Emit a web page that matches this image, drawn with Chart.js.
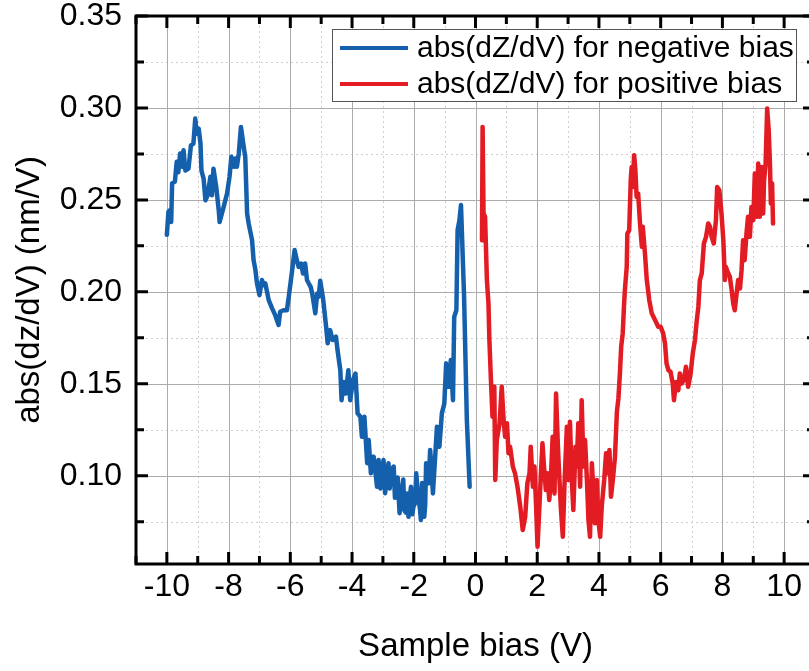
<!DOCTYPE html>
<html>
<head>
<meta charset="utf-8">
<script src="https://cdn.jsdelivr.net/npm/chart.js@4"></script>
<style>
  html, body { margin: 0; padding: 0; background: #fff; overflow: hidden; }
  canvas { display: block; }
</style>
</head>
<body>
<canvas id="c" width="820" height="671" style="width:820px;height:671px"></canvas>
<script>
// negative bias branch (V, nm/V)
const negX = [-10.00,-9.95,-9.90,-9.86,-9.83,-9.74,-9.68,-9.63,-9.57,-9.51,-9.46,-9.40,-9.30,-9.22,-9.14,-9.08,-9.03,-8.97,-8.91,-8.88,
  -8.81,-8.75,-8.68,-8.59,-8.54,-8.49,-8.40,-8.32,-8.29,-8.16,-8.05,-7.97,-7.91,-7.83,-7.78,-7.73,-7.67,-7.60,-7.51,-7.46,
  -7.40,-7.35,-7.24,-7.19,-7.13,-7.08,-7.00,-6.92,-6.86,-6.81,-6.70,-6.59,-6.49,-6.38,-6.33,-6.22,-6.11,-6.05,-5.94,-5.86,
  -5.79,-5.73,-5.65,-5.59,-5.52,-5.46,-5.40,-5.34,-5.29,-5.24,-5.19,-5.13,-5.08,-5.03,-4.94,-4.84,-4.79,-4.71,-4.63,-4.52,
  -4.47,-4.38,-4.34,-4.27,-4.20,-4.12,-4.06,-3.97,-3.89,-3.82,-3.73,-3.68,-3.60,-3.51,-3.46,-3.39,-3.30,-3.19,-3.14,-3.08,
  -3.03,-2.98,-2.93,-2.89,-2.82,-2.78,-2.74,-2.70,-2.65,-2.61,-2.57,-2.52,-2.46,-2.42,-2.38,-2.34,-2.31,-2.26,-2.22,-2.17,
  -2.13,-2.09,-2.05,-2.01,-1.96,-1.92,-1.88,-1.84,-1.80,-1.77,-1.73,-1.70,-1.66,-1.63,-1.60,-1.56,-1.52,-1.47,-1.42,-1.38,
  -1.30,-1.25,-1.17,-1.09,-1.01,-0.95,-0.87,-0.80,-0.73,-0.69,-0.62,-0.58,-0.52,-0.47,-0.41,-0.37,-0.28,-0.19];
const negY = [0.2310,0.2435,0.2444,0.2380,0.2590,0.2600,0.2707,0.2650,0.2752,0.2680,0.2770,0.2660,0.2670,0.2797,0.2806,0.2942,0.2860,0.2888,0.2806,0.2660,
  0.2616,0.2498,0.2525,0.2626,0.2525,0.2670,0.2570,0.2444,0.2380,0.2462,0.2535,0.2626,0.2734,0.2680,0.2725,0.2680,0.2752,0.2897,0.2788,0.2734,
  0.2426,0.2372,0.2281,0.2172,0.2118,0.2046,0.1982,0.2064,0.2036,0.2046,0.1955,0.1910,0.1873,0.1820,0.1892,0.1900,0.1900,0.1973,0.2118,0.2227,
  0.2172,0.2136,0.2154,0.2100,0.2154,0.2064,0.2045,0.2027,0.1991,0.1937,0.1883,0.1991,0.1973,0.2060,0.1965,0.1810,0.1720,0.1792,0.1738,0.1756,
  0.1683,0.1574,0.1411,0.1510,0.1447,0.1574,0.1411,0.1520,0.1556,0.1339,0.1321,0.1212,0.1321,0.1068,0.1194,0.1013,0.1104,0.0940,0.1086,0.0930,
  0.1013,0.1086,0.0905,0.0959,0.1068,0.0930,0.0995,0.1040,0.1050,0.0880,0.0922,0.0990,0.0796,0.0860,0.0922,0.0980,0.0813,0.0800,0.0904,0.0777,
  0.0880,0.0940,0.0790,0.0832,0.0850,0.1013,0.0930,0.0868,0.0820,0.0759,0.0960,0.0904,0.0777,0.0840,0.1068,0.1000,0.0959,0.1140,0.1030,0.0904,
  0.1122,0.1267,0.1158,0.1339,0.1393,0.1611,0.1484,0.1629,0.1411,0.1864,0.1900,0.2335,0.2390,0.2472,0.2172,0.1973,0.1303,0.0940];

// positive bias branch
const posX = [0.21,0.23,0.26,0.31,0.37,0.42,0.45,0.50,0.55,0.61,0.64,0.69,0.78,0.85,0.91,0.96,1.02,1.07,1.12,1.21,
  1.28,1.36,1.45,1.53,1.61,1.68,1.75,1.79,1.86,1.91,1.96,2.01,2.07,2.12,2.17,2.22,2.28,2.33,2.39,2.44,
  2.50,2.56,2.61,2.67,2.72,2.77,2.83,2.88,2.96,3.01,3.06,3.12,3.17,3.24,3.28,3.33,3.39,3.44,3.50,3.55,
  3.61,3.66,3.71,3.77,3.82,3.87,3.93,3.98,4.04,4.09,4.17,4.23,4.28,4.34,4.39,4.45,4.52,4.58,4.63,4.68,
  4.72,4.77,4.81,4.84,4.90,4.92,4.98,5.03,5.06,5.09,5.14,5.18,5.22,5.27,5.33,5.39,5.42,5.49,5.55,5.63,
  5.71,5.82,5.92,6.00,6.08,6.14,6.19,6.25,6.32,6.39,6.43,6.50,6.57,6.62,6.68,6.75,6.82,6.89,6.97,7.04,
  7.11,7.17,7.22,7.27,7.33,7.40,7.47,7.54,7.60,7.65,7.72,7.79,7.83,7.90,7.97,8.03,8.08,8.11,8.19,8.24,
  8.30,8.35,8.40,8.46,8.51,8.57,8.62,8.67,8.72,8.78,8.83,8.89,8.94,9.00,9.05,9.11,9.16,9.21,9.27,9.32,
  9.35,9.40,9.45,9.50,9.54,9.57,9.61,9.64];
const posY = [0.2281,0.2897,0.2426,0.2408,0.2064,0.1937,0.1738,0.1522,0.1321,0.1484,0.0977,0.1194,0.1285,0.1484,0.1303,0.1212,0.1285,0.1122,0.1158,0.1050,
  0.1013,0.0940,0.0832,0.0705,0.0777,0.0959,0.1013,0.1158,0.0940,0.1050,0.0850,0.0614,0.0832,0.1013,0.1176,0.1050,0.0922,0.1013,0.0868,0.0977,
  0.1212,0.0904,0.1447,0.1158,0.0977,0.0813,0.0668,0.0940,0.1267,0.0977,0.1294,0.0977,0.0813,0.1158,0.1050,0.1285,0.0940,0.1411,0.1050,0.1194,
  0.0977,0.0759,0.0668,0.1068,0.0922,0.0741,0.0977,0.0759,0.0668,0.0832,0.0977,0.1122,0.1013,0.1140,0.0886,0.0977,0.1104,0.1345,0.1420,0.1560,
  0.1701,0.1774,0.1918,0.2009,0.2136,0.2317,0.2335,0.2607,0.2679,0.2570,0.2743,0.2661,0.2516,0.2535,0.2372,0.2245,0.2354,0.2209,0.2064,0.1955,
  0.1883,0.1846,0.1810,0.1810,0.1774,0.1720,0.1611,0.1574,0.1565,0.1502,0.1411,0.1510,0.1465,0.1556,0.1502,0.1520,0.1593,0.1484,0.1556,0.1665,
  0.1738,0.1846,0.1918,0.2064,0.2100,0.2263,0.2299,0.2372,0.2354,0.2299,0.2263,0.2390,0.2570,0.2552,0.2426,0.2281,0.2064,0.2136,0.2100,0.2082,
  0.2009,0.1937,0.1900,0.1991,0.2064,0.2018,0.2118,0.2281,0.2172,0.2317,0.2408,0.2299,0.2462,0.2390,0.2643,0.2408,0.2698,0.2408,0.2679,0.2426,
  0.2607,0.2698,0.2997,0.2879,0.2698,0.2480,0.2589,0.2372];

const xTicks = [-10, -8, -6, -4, -2, 0, 2, 4, 6, 8, 10];
const yTicks = [0.10, 0.15, 0.20, 0.25, 0.30, 0.35];
const seriesLabels = ['abs(dZ/dV) for negative bias', 'abs(dZ/dV) for positive bias'];
const seriesColors = ['#1560ac', '#e31b23'];

const FONT = '"Liberation Sans", Arial, Helvetica, sans-serif';

const framePlugin = {
  id: 'frame',
  beforeDatasetsDraw(chart) {
    const { ctx, chartArea: a, scales: { x, y } } = chart;
    ctx.save();
    const xMinor = xTicks.map(v => v + 1).concat([xTicks[0] - 1]);
    const yMinor = yTicks.map(v => v - 0.025);
    ctx.lineWidth = 1;
    ctx.strokeStyle = '#cfcfcf';
    ctx.setLineDash([2, 3]);
    ctx.beginPath();
    xMinor.forEach(v => {
      const p = Math.round(x.getPixelForValue(v)) + 0.5;
      if (p > a.left + 2 && p < a.right - 2) { ctx.moveTo(p, a.top); ctx.lineTo(p, a.bottom); }
    });
    yMinor.forEach(v => {
      const p = Math.round(y.getPixelForValue(v)) + 0.5;
      if (p > a.top + 2 && p < a.bottom - 2) { ctx.moveTo(a.left, p); ctx.lineTo(a.right, p); }
    });
    ctx.stroke();
    ctx.setLineDash([]);
    ctx.strokeStyle = '#ababab';
    ctx.beginPath();
    xTicks.forEach(v => {
      const p = Math.round(x.getPixelForValue(v)) + 0.5;
      ctx.moveTo(p, a.top); ctx.lineTo(p, a.bottom);
    });
    yTicks.forEach(v => {
      const p = Math.round(y.getPixelForValue(v)) + 0.5;
      ctx.moveTo(a.left, p); ctx.lineTo(a.right, p);
    });
    ctx.stroke();
    ctx.restore();
  },
  afterDatasetsDraw(chart) {
    const { ctx, chartArea: a, scales: { x, y } } = chart;
    ctx.save();
    ctx.strokeStyle = '#000';
    ctx.lineWidth = 3;
    ctx.lineCap = 'butt';
    ctx.beginPath();
    ctx.moveTo(a.left, a.bottom); ctx.lineTo(a.left, a.top); ctx.lineTo(a.right, a.top);
    ctx.lineTo(a.right, a.bottom); ctx.lineTo(a.left, a.bottom);
    ctx.closePath();
    ctx.stroke();
    // inward ticks
    const xMinor = xTicks.map(v => v + 1).concat([xTicks[0] - 1]);
    const yMinor = yTicks.map(v => v - 0.025);
    ctx.beginPath();
    const tickX = (v, len) => {
      const p = x.getPixelForValue(v);
      ctx.moveTo(p, a.bottom); ctx.lineTo(p, a.bottom - len);
      ctx.moveTo(p, a.top); ctx.lineTo(p, a.top + len);
    };
    const tickY = (v, len) => {
      const p = y.getPixelForValue(v);
      ctx.moveTo(a.left, p); ctx.lineTo(a.left + len, p);
      ctx.moveTo(a.right, p); ctx.lineTo(a.right - len, p);
    };
    xTicks.forEach(v => tickX(v, 12));
    xMinor.forEach(v => tickX(v, 8));
    yTicks.forEach(v => tickY(v, 12));
    yMinor.forEach(v => tickY(v, 8));
    ctx.stroke();

    // legend box
    const bx = 332, by = 29, bw = 464, bh = 72;
    ctx.fillStyle = '#fff';
    ctx.fillRect(bx, by, bw, bh);
    ctx.lineWidth = 1;
    ctx.strokeStyle = '#555';
    ctx.strokeRect(bx + 0.5, by + 0.5, bw, bh);
    ctx.font = '30px ' + FONT;
    ctx.textBaseline = 'middle';
    ctx.fillStyle = '#000';
    chart.data.datasets.forEach((ds, i) => {
      const ry = by + 19 + i * 36;
      ctx.strokeStyle = ds.borderColor;
      ctx.lineWidth = 4;
      ctx.beginPath();
      ctx.moveTo(bx + 8, ry); ctx.lineTo(bx + 76, ry);
      ctx.stroke();
      ctx.fillText(ds.label, bx + 85, ry + 1);
    });
    ctx.restore();
  }
};

new Chart(document.getElementById('c'), {
  type: 'line',
  data: {
    datasets: [
      {
        label: seriesLabels[0],
        data: negX.map((v, i) => ({ x: v, y: negY[i] })),
        borderColor: seriesColors[0],
        borderWidth: 4.5,
      },
      {
        label: seriesLabels[1],
        data: posX.map((v, i) => ({ x: v, y: posY[i] })),
        borderColor: seriesColors[1],
        borderWidth: 4.5,
      }
    ]
  },
  options: {
    responsive: false,
    animation: false,
    devicePixelRatio: 1,
    layout: { padding: { left: 0, top: 16, right: 5, bottom: 0 } },
    elements: {
      point: { radius: 0 },
      line: { tension: 0, borderJoinStyle: 'round', borderCapStyle: 'round' }
    },
    plugins: {
      legend: { display: false },
      tooltip: { enabled: false }
    },
    scales: {
      x: {
        type: 'linear',
        min: -11,
        max: 11,
        afterBuildTicks: s => { s.ticks = xTicks.map(v => ({ value: v })); },
        afterFit: s => { s.height = 107; s.paddingLeft = 0; s.paddingRight = 0; },
        grid: { display: false, drawTicks: false },
        border: { display: false },
        ticks: { color: '#000', font: { size: 32, family: FONT }, padding: 4, maxRotation: 0, autoSkip: false },
        title: { display: true, text: 'Sample bias (V)', color: '#000', font: { size: 33, family: FONT }, padding: { top: 0, bottom: 4 } }
      },
      y: {
        min: 0.052,
        max: 0.35,
        afterBuildTicks: s => { s.ticks = yTicks.map(v => ({ value: v })); },
        afterFit: s => { s.width = 136; s.paddingTop = 0; s.paddingBottom = 0; },
        grid: { display: false, drawTicks: false },
        border: { display: false },
        ticks: { color: '#000', font: { size: 32, family: FONT }, padding: 14, callback: v => v.toFixed(2) },
        title: { display: true, text: 'abs(dz/dV) (nm/V)', color: '#000', font: { size: 33, family: FONT }, padding: { top: 10, bottom: 0 } }
      }
    }
  },
  plugins: [framePlugin]
});
</script>
</body>
</html>
